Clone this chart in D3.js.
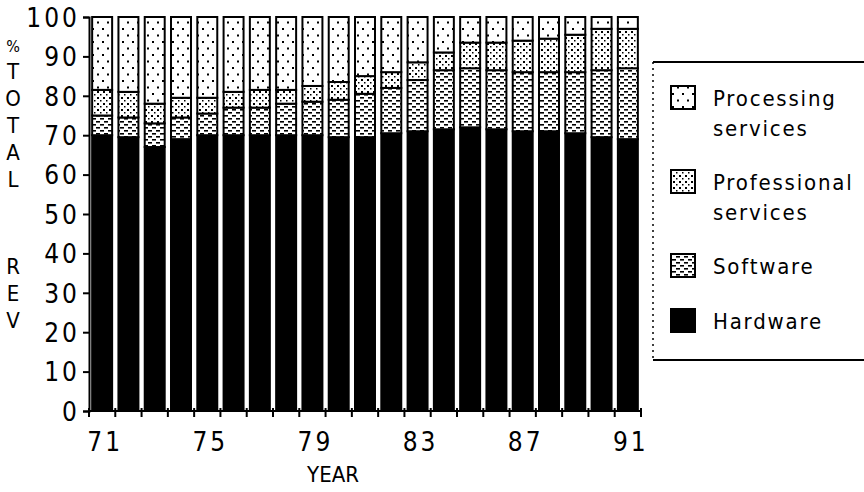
<!DOCTYPE html>
<html><head><meta charset="utf-8">
<script src="https://cdn.jsdelivr.net/npm/d3@7/dist/d3.min.js"></script>
<style>
html,body{margin:0;padding:0;background:#fff;}
svg{display:block;font-family:"DejaVu Sans Condensed","DejaVu Sans",sans-serif;}
</style></head>
<body>
<svg id="chart" width="864" height="492"></svg>
<script>
const years = ["71","72","73","74","75","76","77","78","79","80","81","82","83","84","85","86","87","88","89","90","91"];
const hardware     = [70,69.5,67,69,70,70,70,70,70,69.5,69.5,70.5,71,71.5,72,71.5,71,71,70.5,69.5,69];
const software     = [5,5,6,5.5,5.5,7,7,8,8.5,9.5,11,11.5,13,15,15,15,15,15,15.5,17,18];
const professional = [6.5,6.5,5,5,4,4,4.5,3.5,4,4.5,4.5,4,4.5,4.5,6.5,7,8,8.5,9.5,10.5,10];
const processing   = [18.5,19,22,20.5,20.5,19,18.5,18.5,17.5,16.5,15,14,11.5,9,6.5,6.5,6,5.5,4.5,3,3];
const yTicks = [0,10,20,30,40,50,60,70,80,90,100];
const xLabels = ["71","75","79","83","87","91"];
const seriesKeys = ["hardware","software","professional","processing"];
const legendItems = [
  {key:"processing", lines:["Processing","services"]},
  {key:"professional", lines:["Professional","services"]},
  {key:"software", lines:["Software"]},
  {key:"hardware", lines:["Hardware"]}
];

const svg = d3.select("#chart");
const defs = svg.append("defs");

// processing: sparse dots
let p = defs.append("pattern").attr("id","pat-processing").attr("patternUnits","userSpaceOnUse").attr("width",10).attr("height",13);
p.append("rect").attr("width",10).attr("height",13).attr("fill","#fff");
p.append("rect").attr("x",2).attr("y",2).attr("width",2).attr("height",2).attr("fill","#000");
p.append("rect").attr("x",7).attr("y",8.5).attr("width",2).attr("height",2).attr("fill","#000");
// professional: denser dots
p = defs.append("pattern").attr("id","pat-professional").attr("patternUnits","userSpaceOnUse").attr("width",6).attr("height",6);
p.append("rect").attr("width",6).attr("height",6).attr("fill","#fff");
p.append("rect").attr("x",1).attr("y",1).attr("width",2).attr("height",2).attr("fill","#000");
p.append("rect").attr("x",4).attr("y",4).attr("width",1.5).attr("height",1.5).attr("fill","#000");
// software: dashes brick pattern
p = defs.append("pattern").attr("id","pat-software").attr("patternUnits","userSpaceOnUse").attr("width",8).attr("height",6);
p.append("rect").attr("width",8).attr("height",6).attr("fill","#fff");
p.append("rect").attr("x",0).attr("y",1).attr("width",4).attr("height",1.6).attr("fill","#000");
p.append("rect").attr("x",4).attr("y",4).attr("width",4).attr("height",1.6).attr("fill","#000");

const fills = {
  hardware: "#000",
  software: "url(#pat-software)",
  professional: "url(#pat-professional)",
  processing: "url(#pat-processing)"
};

const x0 = 89, x1 = 641, yBottom = 411, yTop = 17;
const x = d3.scaleBand().domain(years).range([x0, x1]).paddingInner(0.24).paddingOuter(0.12);
const y = d3.scaleLinear().domain([0,100]).range([yBottom, yTop]);

const rows = years.map((yr,i)=>({year:yr, hardware:hardware[i], software:software[i], professional:professional[i], processing:processing[i]}));
const stack = d3.stack().keys(seriesKeys)(rows);

const g = svg.append("g");
stack.forEach(layer=>{
  g.append("g").selectAll("rect").data(layer).join("rect")
    .attr("x", d=>x(d.data.year))
    .attr("y", d=>y(d[1]))
    .attr("width", x.bandwidth())
    .attr("height", d=>y(d[0])-y(d[1]))
    .attr("fill", fills[layer.key])
    .attr("stroke","#000")
    .attr("stroke-width",2);
});

// Y axis
const yAxis = d3.axisLeft(y).tickValues(yTicks).tickSize(6).tickPadding(3);
const ya = svg.append("g").attr("transform",`translate(${x0},0)`).call(yAxis);
ya.select(".domain").attr("stroke","#000").attr("stroke-width",2);
ya.selectAll(".tick line").attr("stroke","#000").attr("stroke-width",2);
ya.selectAll(".tick text").attr("font-size",26).attr("fill","#000").attr("letter-spacing",3)
  .attr("font-family","DejaVu Sans Condensed, DejaVu Sans, sans-serif").attr("dy","0.36em");

// X axis line and boundary ticks
svg.append("line").attr("x1",x0).attr("x2",x1).attr("y1",yBottom).attr("y2",yBottom).attr("stroke","#000").attr("stroke-width",2);
const boundaries = d3.range(years.length+1);
svg.append("g").selectAll("line").data(boundaries).join("line")
  .attr("x1", i=> i===years.length ? x1 : x(years[i]) - x.step()*x.paddingInner()/2)
  .attr("x2", i=> i===years.length ? x1 : x(years[i]) - x.step()*x.paddingInner()/2)
  .attr("y1", yBottom-3).attr("y2", yBottom+6)
  .attr("stroke","#000").attr("stroke-width",2);

svg.append("g").selectAll("text").data(xLabels).join("text")
  .attr("x", d=>x(d)+x.bandwidth()/2+3)
  .attr("y", 451)
  .attr("text-anchor","middle")
  .attr("font-size",26).attr("letter-spacing",3)
  .text(d=>d);

svg.append("text").attr("x",333).attr("y",482).attr("text-anchor","middle")
  .attr("font-size",22).attr("letter-spacing",0).text("YEAR");

// Y title stacked
const yTitle = [["%",44],["T",71],["O",98],["T",125],["A",152],["L",179],["R",266],["E",293],["V",320]];
svg.append("g").selectAll("text").data(yTitle).join("text")
  .attr("x",13).attr("y",d=>d[1]+8).attr("text-anchor","middle")
  .attr("font-size",d=>d[0]==="%"?16:22)
  .text(d=>d[0]);

// Legend
const lg = svg.append("g");
lg.append("line").attr("x1",653).attr("x2",864).attr("y1",62).attr("y2",62).attr("stroke","#000").attr("stroke-width",2);
lg.append("line").attr("x1",653).attr("x2",864).attr("y1",360).attr("y2",360).attr("stroke","#000").attr("stroke-width",2);
lg.append("line").attr("x1",653).attr("x2",653).attr("y1",62).attr("y2",360).attr("stroke","#000").attr("stroke-width",1.5).attr("stroke-dasharray","2,4");
const swY = [86, 170, 254, 309];
legendItems.forEach((it,i)=>{
  lg.append("rect").attr("x",671).attr("y",swY[i]).attr("width",24).attr("height",23)
    .attr("fill",fills[it.key]).attr("stroke","#000").attr("stroke-width",2);
  it.lines.forEach((t,j)=>{
    lg.append("text").attr("x",713).attr("y",swY[i]+20+j*30)
      .attr("font-size",22).attr("letter-spacing",1.8).text(t);
  });
});
</script>
</body></html>
